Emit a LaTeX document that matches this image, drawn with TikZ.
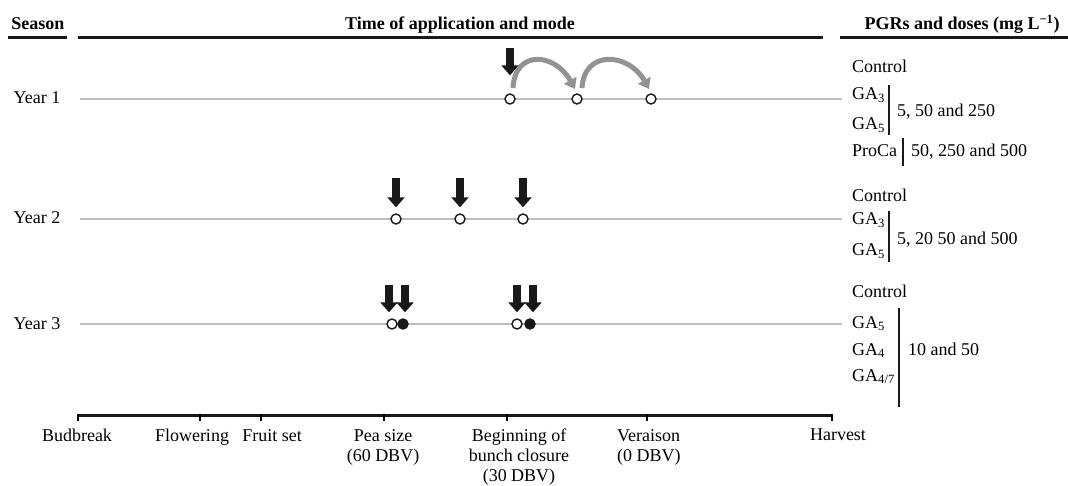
\documentclass[tikz,border=0pt]{standalone}
\usepackage{fontspec}
\setmainfont{Liberation Serif}
\usetikzlibrary{arrows.meta, calc}

\begin{document}
\begin{tikzpicture}[
  x=1pt, y=-1pt,
  every node/.style={font=\fontsize{18}{20}\selectfont, inner sep=0pt},
  head/.style={font=\fontsize{18}{20}\selectfont\bfseries, anchor=base},
  rule/.style={line width=3pt, black!90},
  seasonline/.style={gray!50, line width=2pt},
  stage/.style={circle, draw=black!90, line width=1.4pt, fill=white, minimum size=10pt, inner sep=0pt},
  stagefull/.style={stage, fill=black!90},
  apply/.style={black!90, line width=7.5pt, -{Triangle[length=10pt, width=17pt]}},
  carry/.style={gray!85, line width=5pt, -{Triangle[length=10pt, width=14pt]}},
  dose/.style={anchor=base west},
  bar/.style={line width=1.2pt, black!90},
  phase/.style={anchor=north, align=center}
]
  \useasboundingbox (0,0) rectangle (1068,486);

  % Headers
  \node[head] (season) at (38,30) {Season};
  \node[head] (time) at (460,30) {Time of application and mode};
  \node[head] (pgr) at (962,30) {PGRs and doses (mg L\textsuperscript{−1})};
  \draw[rule] (8,37.5) -- (67,37.5);
  \draw[rule] (78,37.5) -- (823,37.5);
  \draw[rule] (840,37.5) -- (1068,37.5);

  % Year 1
  \node[anchor=base] (year1) at (37,104) {Year 1};
  \draw[seasonline] (80,99) -- (842,99);
  \node[stage] (y1a) at (510,99) {};
  \node[stage] (y1b) at (577,99) {};
  \node[stage] (y1c) at (651,99) {};
  \draw[apply] ([yshift=45pt]y1a.north) -- ([yshift=18pt]y1a.north);
  \draw[carry] ($(y1a.center)+(3,-11)$) .. controls ($(y1a.center)+(5,-50)$) and ($(y1b.center)+(-22,-46)$) .. ($(y1b.center)+(-2,-10)$);
  \draw[carry] ($(y1b.center)+(5,-11)$) .. controls ($(y1b.center)+(7,-50)$) and ($(y1c.center)+(-22,-46)$) .. ($(y1c.center)+(-2,-10)$);

  \node[dose] (ctl1) at (852,73) {Control};
  \node[dose] (ga31) at (852,100) {GA\textsubscript{3}};
  \node[dose] (ga51) at (852,130) {GA\textsubscript{5}};
  \draw[bar] (889,85) -- (889,135);
  \node[dose] (dose1) at (897,117) {5, 50 and 250};
  \node[dose] (proca1) at (852,157) {ProCa};
  \draw[bar] (903,138) -- (903,166);
  \node[dose] (dose1b) at (911,157) {50, 250 and 500};

  % Year 2
  \node[anchor=base] (year2) at (37,224) {Year 2};
  \draw[seasonline] (80,219) -- (842,219);
  \foreach \n/\x in {a/396, b/460, c/523}{
    \node[stage] (y2\n) at (\x,219) {};
    \draw[apply] ([yshift=35pt]y2\n.north) -- ([yshift=6pt]y2\n.north);
  }

  \node[dose] (ctl2) at (852,202) {Control};
  \node[dose] (ga32) at (852,225) {GA\textsubscript{3}};
  \node[dose] (ga52) at (852,256) {GA\textsubscript{5}};
  \draw[bar] (889,211) -- (889,262);
  \node[dose] (dose2) at (897,245) {5, 20 50 and 500};

  % Year 3
  \node[anchor=base] (year3) at (37,330) {Year 3};
  \draw[seasonline] (80,324) -- (842,324);
  \node[stage] (y3a) at (392,324) {};
  \node[stagefull] (y3b) at (403,324) {};
  \node[stage] (y3c) at (517,324) {};
  \node[stagefull] (y3d) at (530,324) {};
  \foreach \n/\s in {a/-3, b/2, c/0, d/3}{
    \draw[apply] ([xshift=\s pt, yshift=33pt]y3\n.north) -- ([xshift=\s pt, yshift=6pt]y3\n.north);
  }

  \node[dose] (ctl3) at (852,298) {Control};
  \node[dose] (ga53) at (852,328) {GA\textsubscript{5}};
  \node[dose] (ga43) at (852,355) {GA\textsubscript{4}};
  \node[dose] (ga473) at (852,381) {GA\textsubscript{4/7}};
  \draw[bar] (899,308) -- (899,407);
  \node[dose] (dose3) at (908,355) {10 and 50};

  % Phenology axis
  \draw[rule] (78,415) -- (832,415);
  \foreach \x in {78,200,261,384,507,647,832}
    \draw[line width=1.2pt] (\x,414) -- (\x,421);
  \node[phase] (budbreak) at (77,429) {Budbreak};
  \node[phase] (flowering) at (192,429) {Flowering};
  \node[phase] (fruitset) at (272,429) {Fruit set};
  \node[phase] (peasize) at (383,429) {Pea size\\(60 DBV)};
  \node[phase] (closure) at (519,429) {Beginning of\\bunch closure\\(30 DBV)};
  \node[anchor=north west, align=left] (veraison) at (617,429) {Veraison\\(0 DBV)};
  \node[phase] (harvest) at (838,429) {Harvest};
\end{tikzpicture}
\end{document}
